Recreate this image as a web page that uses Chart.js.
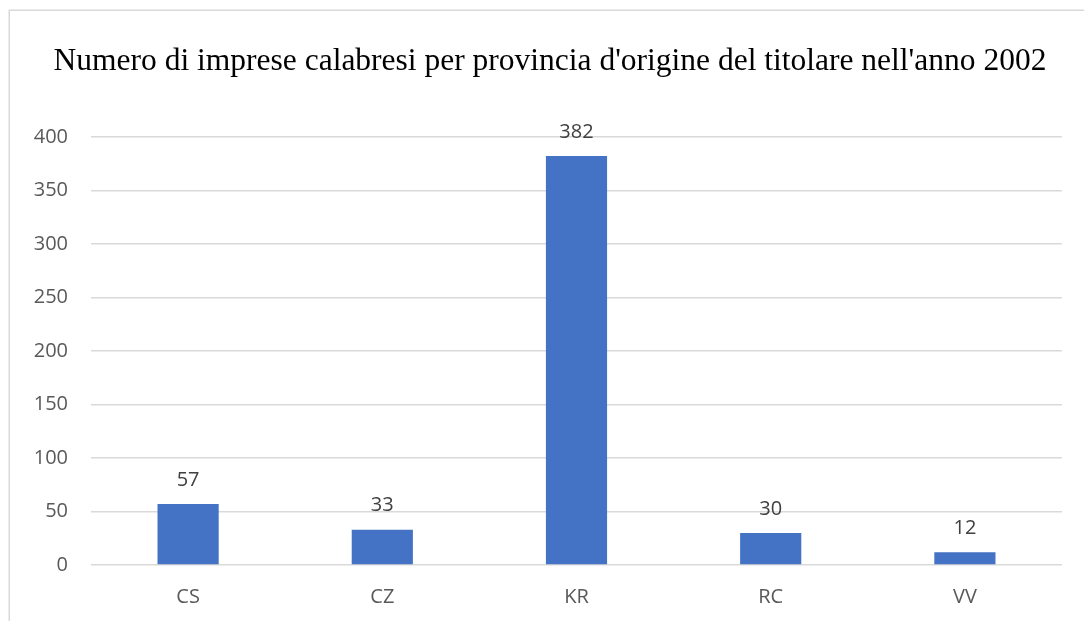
<!DOCTYPE html>
<html>
<head>
<meta charset="utf-8">
<script src="https://cdn.jsdelivr.net/npm/chart.js@4/dist/chart.umd.min.js"></script>
<style>
  html, body { margin: 0; padding: 0; background: #fff; overflow: hidden; }
  canvas { display: block; }
</style>
</head>
<body>
<canvas id="chart" width="1100" height="640"></canvas>
<script>
const categories = ["CS", "CZ", "KR", "RC", "VV"];
const imprese = [57, 33, 382, 30, 12];
const yTicks = [0, 50, 100, 150, 200, 250, 300, 350, 400];

const titleText = "Numero di imprese calabresi per provincia d'origine del titolare nell'anno 2002";
const sansFont = "'Open Sans', 'Liberation Sans', sans-serif";

// light grey frame around the whole chart, like the office export
const framePlugin = {
  id: "frame",
  beforeDraw(chart) {
    const { ctx, width, height } = chart;
    ctx.save();
    ctx.fillStyle = "#ffffff";
    ctx.fillRect(0, 0, width, height);
    ctx.strokeStyle = "#d9d9d9";
    ctx.lineWidth = 1.5;
    ctx.strokeRect(9.25, 10.25, width - 14, height - 14);
    ctx.restore();
  },
};

// value labels above each bar
const valueLabels = {
  id: "valueLabels",
  afterDatasetsDraw(chart) {
    const { ctx } = chart;
    const meta = chart.getDatasetMeta(0);
    ctx.save();
    ctx.font = "20px " + sansFont;
    ctx.fillStyle = "#404040";
    ctx.textAlign = "center";
    ctx.textBaseline = "middle";
    meta.data.forEach((bar, i) => {
      ctx.fillText(String(chart.data.datasets[0].data[i]), bar.x, bar.y - 24);
    });
    ctx.restore();
  },
};

new Chart(document.getElementById("chart"), {
  type: "bar",
  data: {
    labels: categories,
    datasets: [
      {
        data: imprese,
        backgroundColor: "#4472c4",
        borderWidth: 0,
        categoryPercentage: 1,
        barPercentage: 0.315,
      },
    ],
  },
  options: {
    responsive: false,
    animation: false,
    devicePixelRatio: 1,
    layout: { padding: { left: 10, right: 10, top: 10, bottom: 0 } },
    plugins: {
      legend: { display: false },
      tooltip: { enabled: false },
      title: {
        display: true,
        text: titleText,
        color: "#000000",
        font: { family: "'Liberation Serif', serif", size: 31.5, weight: "normal", lineHeight: 1.2 },
        padding: { top: 33, bottom: 56 },
      },
    },
    scales: {
      x: {
        grid: { display: false, drawTicks: false },
        border: { display: false },
        ticks: { color: "#595959", font: { family: sansFont, size: 20 }, padding: 20 },
        afterFit(scale) { scale.height = 75; },
      },
      y: {
        min: 0,
        max: 400,
        afterBuildTicks(scale) { scale.ticks = yTicks.map((v) => ({ value: v })); },
        grid: { color: "#d9d9d9", lineWidth: 1.5, drawTicks: false },
        border: { display: false },
        ticks: { color: "#595959", font: { family: sansFont, size: 20 }, padding: 23 },
        afterFit(scale) { scale.width = 81; },
      },
      // empty right-hand margin so the plot ends where the original does
      yRight: {
        position: "right",
        grid: { display: false, drawTicks: false },
        border: { display: false },
        ticks: { display: false },
        afterFit(scale) { scale.width = 28; },
      },
    },
  },
  plugins: [framePlugin, valueLabels],
});
</script>
</body>
</html>
